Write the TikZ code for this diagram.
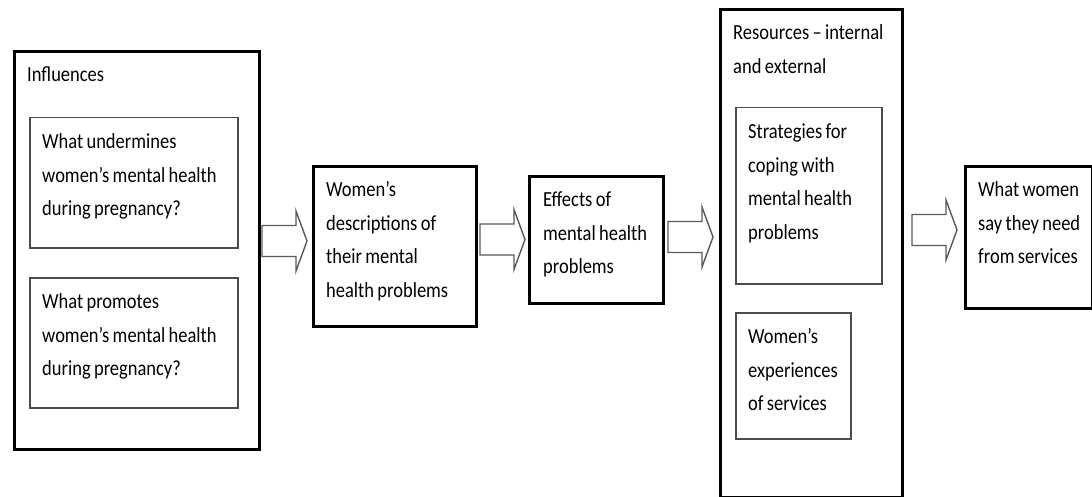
\documentclass[tikz,border=0pt]{standalone}
\usepackage{fontspec}
\setmainfont{Carlito}[FakeStretch=0.86,WordSpace=0.8]
\usetikzlibrary{calc}

\newcommand{\boxfont}{\fontsize{21.5}{33.5}\selectfont}

% open block arrow around a named centre
\newcommand{\fatarrow}[1]{%
  \draw [arrowline] ($(#1)+(-22.5,-15.5)$) -- ($(#1)+(11.5,-15.5)$) -- ($(#1)+(11.5,-30)$)
    -- ($(#1)+(22.5,0)$) -- ($(#1)+(11.5,30)$) -- ($(#1)+(11.5,15.5)$)
    -- ($(#1)+(-22.5,15.5)$) -- cycle;}

\tikzset{
  outerbox/.style={draw=black, line width=2.8pt, anchor=north west, inner sep=0pt},
  innerbox/.style={draw=black!70, line width=1.5pt, anchor=north west, inner sep=0pt},
  boxtext/.style={anchor=north west, inner sep=0pt, align=left, font=\boxfont},
  arrowline/.style={draw=black!65, line width=1.4pt, fill=white},
}

\begin{document}
\begin{tikzpicture}[x=1pt,y=-1pt]
    \useasboundingbox (0,0) rectangle (1092,497);

    % influences
    \node [outerbox, minimum width=245, minimum height=398] (infl) at (13,50) {};
      \node [boxtext] (infl-t) at ($(infl.north west)+(14,8)$) {\strut Influences};
    \node [innerbox, minimum width=208, minimum height=130] (under) at (29,117) {};
      \node [boxtext] (under-t) at ($(under.north west)+(13,8)$) {\strut What undermines\\women’s mental health\\during pregnancy?};
    \node [innerbox, minimum width=208, minimum height=130] (prom) at (29,277) {};
      \node [boxtext] (prom-t) at ($(prom.north west)+(13,8)$) {\strut What promotes\\women’s mental health\\during pregnancy?};

    % descriptions and effects
    \node [outerbox, minimum width=163, minimum height=160] (desc) at (312,165) {};
      \node [boxtext] (desc-t) at ($(desc.north west)+(14,8)$) {\strut Women’s\\descriptions of\\their mental\\health problems};
    \node [outerbox, minimum width=134, minimum height=127] (eff) at (528,175) {};
      \node [boxtext] (eff-t) at ($(eff.north west)+(15,8)$) {\strut Effects of\\mental health\\problems};

    % resources
    \node [outerbox, minimum width=182, minimum height=488] (res) at (719,8) {};
      \node [boxtext] (res-t) at ($(res.north west)+(14,8)$) {\strut Resources – internal\\and external};
    \node [innerbox, minimum width=146, minimum height=176] (strat) at (735,107) {};
      \node [boxtext] (strat-t) at ($(strat.north west)+(13,8)$) {\strut Strategies for\\coping with\\mental health\\problems};
    \node [innerbox, minimum width=115, minimum height=126] (exper) at (735,312) {};
      \node [boxtext] (exper-t) at ($(exper.north west)+(13,8)$) {\strut Women’s\\experiences\\of services};

    % needs
    \node [outerbox, minimum width=126.5, minimum height=142] (need) at (964,165) {};
      \node [boxtext] (need-t) at ($(need.north west)+(14,8)$) {\strut What women\\say they need\\from services};

    % arrows
    \coordinate (a1) at (284.5,241);
    \coordinate (a2) at (502.5,239.5);
    \coordinate (a3) at (690.5,237);
    \coordinate (a4) at (934.5,230);
    \fatarrow{a1}
    \fatarrow{a2}
    \fatarrow{a3}
    \fatarrow{a4}
\end{tikzpicture}
\end{document}
